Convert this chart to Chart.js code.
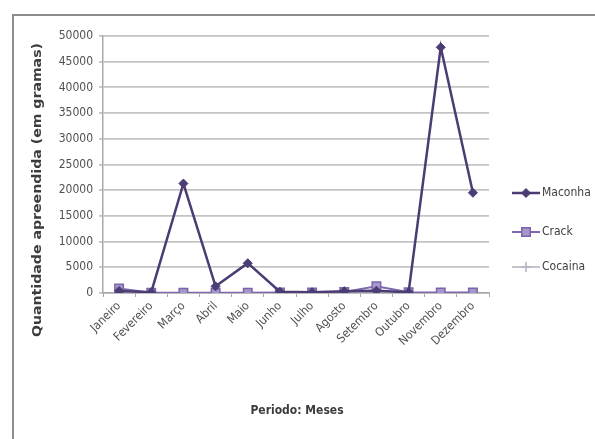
<!DOCTYPE html>
<html>
<head>
<meta charset="utf-8">
<script src="https://cdn.jsdelivr.net/npm/chart.js@4/dist/chart.umd.min.js"></script>
<style>
  html, body { margin: 0; padding: 0; background: #fff; }
  #wrap { position: relative; width: 595px; height: 439px; }
  canvas { display: block; }
</style>
</head>
<body>
<div id="wrap"><canvas id="c" width="595" height="439"></canvas></div>
<script>
// Apreensões mensais por substância (em gramas)
const months = ['Janeiro', 'Fevereiro', 'Março', 'Abril', 'Maio', 'Junho',
                'Julho', 'Agosto', 'Setembro', 'Outubro', 'Novembro', 'Dezembro'];
const maconha = [400, 150, 21300, 1300, 5800, 250, 150, 350, 450, 150, 47800, 19500];
const crack   = [900, 60, 40, 60, 50, 80, 100, 200, 1300, 150, 100, 120];
const cocaina = [120, 50, 40, 50, 40, 50, 50, 60, 60, 50, 50, 50];
const yTicks  = [0, 5000, 10000, 15000, 20000, 25000, 30000, 35000, 40000, 45000, 50000];

const FONT = '"Liberation Sans Narrow", "DejaVu Sans Condensed", "Liberation Sans", sans-serif';

// Moldura externa, títulos dos eixos e legenda à direita
const decor = {
  id: 'decor',
  beforeDraw(chart) {
    const ctx = chart.ctx;
    ctx.save();
    ctx.fillStyle = '#fff';
    ctx.fillRect(0, 0, chart.width, chart.height);
    ctx.strokeStyle = '#8c8c8c';
    ctx.lineWidth = 2;
    ctx.strokeRect(13, 15, 700, 600);
    ctx.restore();
  },
  afterDraw(chart) {
    const ctx = chart.ctx;
    ctx.save();
    // título do eixo Y
    const yTitle = 'Quantidade apreendida (em gramas)';
    ctx.font = 'bold 12px ' + FONT;
    const w = ctx.measureText(yTitle).width;
    ctx.translate(38, 190);
    ctx.rotate(-Math.PI / 2);
    ctx.scale(294 / w, 1);
    ctx.fillStyle = '#3c3c3c';
    ctx.textAlign = 'center';
    ctx.textBaseline = 'middle';
    ctx.fillText(yTitle, 0, 0);
    ctx.restore();

    // título do eixo X
    ctx.save();
    ctx.font = 'bold 12px ' + FONT;
    ctx.fillStyle = '#3c3c3c';
    ctx.textAlign = 'center';
    ctx.textBaseline = 'middle';
    ctx.fillText('Periodo: Meses', 297, 411);
    ctx.restore();

    // legenda
    const ys = [193, 232, 267];
    chart.data.datasets.forEach((ds, i) => {
      const y = ys[i];
      ctx.save();
      ctx.strokeStyle = ds.borderColor;
      ctx.lineWidth = ds.borderWidth;
      ctx.beginPath();
      ctx.moveTo(512, y);
      ctx.lineTo(540, y);
      ctx.stroke();
      ctx.fillStyle = ds.pointBackgroundColor;
      ctx.strokeStyle = ds.pointBorderColor;
      ctx.lineWidth = ds.pointBorderWidth;
      Chart.helpers.drawPoint(ctx, {
        pointStyle: ds.pointStyle,
        radius: ds.pointRadius,
        borderWidth: ds.pointBorderWidth
      }, 526, y);
      ctx.font = '12px ' + FONT;
      ctx.fillStyle = '#404040';
      ctx.textAlign = 'left';
      ctx.textBaseline = 'middle';
      ctx.fillText(ds.label, 542, y);
      ctx.restore();
    });
  }
};

new Chart(document.getElementById('c'), {
  type: 'line',
  data: {
    labels: months,
    datasets: [
      {
        label: 'Maconha', data: maconha,
        borderColor: '#4b3c73', borderWidth: 2.5,
        pointStyle: 'rectRot', pointRadius: 4.5,
        pointBackgroundColor: '#4b3c73', pointBorderColor: '#4b3c73', pointBorderWidth: 1,
        tension: 0, order: 1
      },
      {
        label: 'Crack', data: crack,
        borderColor: '#7e68ad', borderWidth: 2,
        pointStyle: 'rect', pointRadius: 6,
        pointBackgroundColor: '#a696cc', pointBorderColor: '#7a64ad', pointBorderWidth: 1.5,
        tension: 0, order: 2
      },
      {
        label: 'Cocaina', data: cocaina,
        borderColor: '#b4b0c0', borderWidth: 1.5,
        pointStyle: 'cross', pointRadius: 5,
        pointBackgroundColor: '#b4b0c0', pointBorderColor: '#b4b0c0', pointBorderWidth: 1.5,
        tension: 0, order: 3
      }
    ]
  },
  options: {
    responsive: false,
    animation: false,
    events: [],
    layout: { padding: { left: 0, right: 106, top: 36, bottom: 0 } },
    plugins: { legend: { display: false }, tooltip: { enabled: false }, title: { display: false } },
    scales: {
      x: {
        offset: true,
        grid: { display: true, offset: true, drawOnChartArea: false, tickLength: 4, color: '#a8a8a8', lineWidth: 1 },
        border: { color: '#a8a8a8', width: 1.5 },
        ticks: {
          minRotation: 45, maxRotation: 45, padding: 2, autoSkip: false,
          color: '#505050', font: { family: FONT, size: 12 }
        },
        afterFit(scale) { scale.height = 146; }
      },
      y: {
        min: 0, max: 50000,
        afterBuildTicks(scale) { scale.ticks = yTicks.map(v => ({ value: v })); },
        grid: { color: '#c4c4c4', lineWidth: 1.8, tickLength: 4 },
        border: { color: '#a8a8a8', width: 1.5 },
        ticks: {
          padding: 6, color: '#505050',
          font: { family: FONT, size: 12 },
          callback: v => String(v)
        },
        afterFit(scale) { scale.width = 103; }
      }
    }
  },
  plugins: [decor]
});
</script>
</body>
</html>
